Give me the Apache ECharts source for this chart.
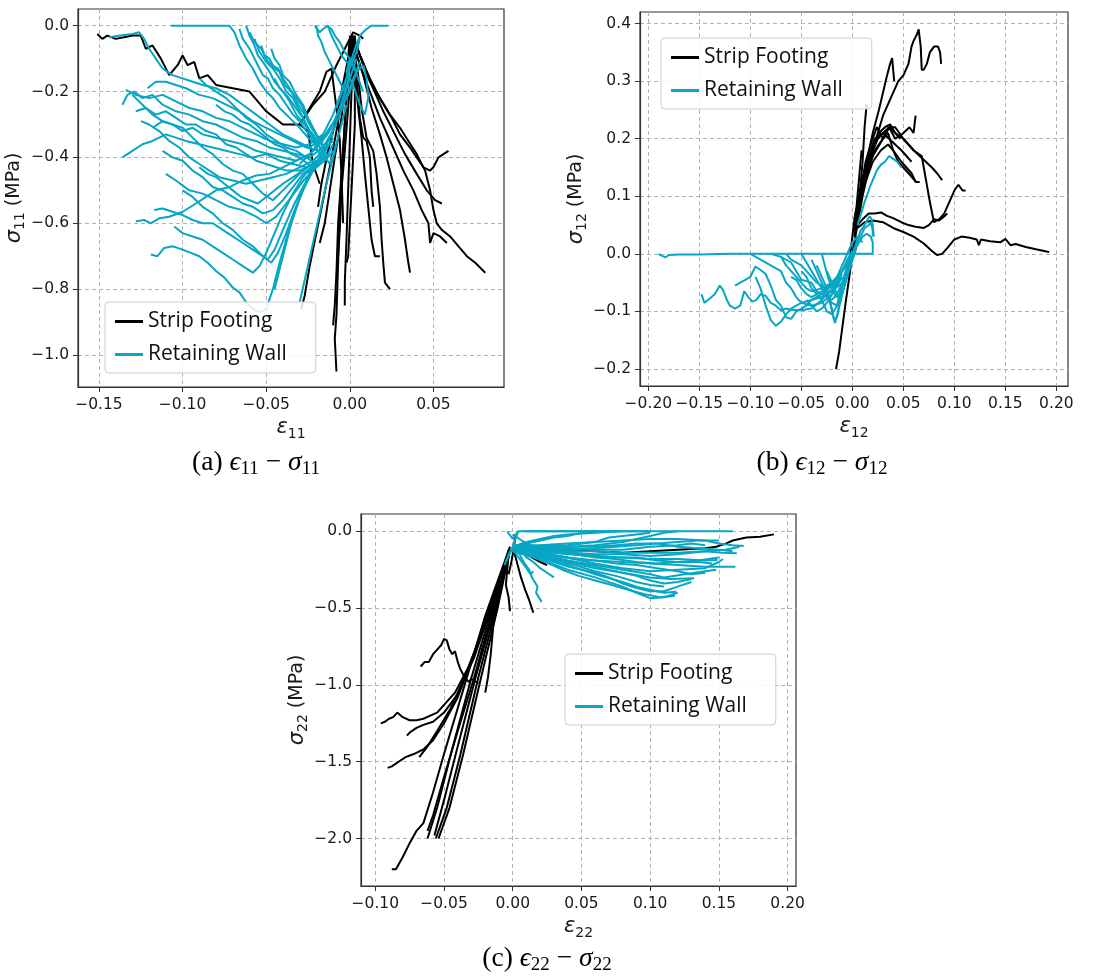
<!DOCTYPE html>
<html><head><meta charset="utf-8">
<script src="https://cdn.jsdelivr.net/npm/echarts@6/dist/echarts.min.js"></script>
<style>html,body{margin:0;padding:0;background:#fff}#c{width:1112px;height:978px}</style>
</head><body><div id="c"></div>
<script>
// ---------- tick labels ----------
const A_XTICKS = [-0.15, -0.10, -0.05, 0.00, 0.05];
const A_YTICKS = [0.0, -0.2, -0.4, -0.6, -0.8, -1.0];
const B_XTICKS = [-0.20, -0.15, -0.10, -0.05, 0.00, 0.05, 0.10, 0.15, 0.20];
const B_YTICKS = [-0.2, -0.1, 0.0, 0.1, 0.2, 0.3, 0.4];
const C_XTICKS = [-0.10, -0.05, 0.00, 0.05, 0.10, 0.15, 0.20];
const C_YTICKS = [0.0, -0.5, -1.0, -1.5, -2.0];
const SERIES_NAMES = ['Strip Footing', 'Retaining Wall'];
const CAPTIONS = ['(a)', '(b)', '(c)'];
const SUBS = ['11', '12', '22'];

// ---------- (a) eps11 - sigma11 ----------
const A_STRIP = [
 [[-0.151,-0.025],[-0.148,-0.04],[-0.145,-0.03],[-0.14,-0.04],[-0.135,-0.035],[-0.13,-0.03],[-0.125,-0.03],[-0.122,-0.07],[-0.118,-0.06],[-0.113,-0.1],[-0.108,-0.15],[-0.103,-0.12],[-0.1,-0.09],[-0.097,-0.12],[-0.093,-0.11],[-0.09,-0.16],[-0.085,-0.15],[-0.08,-0.18],[-0.07,-0.19],[-0.06,-0.2],[-0.05,-0.26],[-0.045,-0.28],[-0.04,-0.3],[-0.03,-0.3],[-0.025,-0.32],[-0.022,-0.42],[-0.018,-0.48]],
 [[0.001,-0.03],[0.004,-0.06],[0.008,-0.12],[0.012,-0.17],[0.018,-0.22],[0.024,-0.27],[0.03,-0.31],[0.035,-0.35],[0.04,-0.39],[0.045,-0.44],[0.048,-0.5],[0.05,-0.56],[0.052,-0.6],[0.055,-0.62],[0.06,-0.64],[0.065,-0.67],[0.07,-0.7],[0.075,-0.72],[0.081,-0.75]],
 [[0.002,-0.03],[0.006,-0.09],[0.012,-0.16],[0.018,-0.22],[0.025,-0.28],[0.03,-0.33],[0.036,-0.37],[0.04,-0.4],[0.044,-0.43],[0.048,-0.44],[0.05,-0.43],[0.053,-0.4],[0.056,-0.39],[0.059,-0.38]],
 [[0.002,-0.04],[0.007,-0.1],[0.013,-0.18],[0.02,-0.26],[0.027,-0.33],[0.033,-0.39],[0.04,-0.45],[0.046,-0.5],[0.051,-0.53],[0.055,-0.54]],
 [[0.002,-0.05],[0.006,-0.12],[0.012,-0.2],[0.018,-0.28],[0.025,-0.36],[0.032,-0.44],[0.038,-0.5],[0.043,-0.56],[0.047,-0.6],[0.048,-0.66],[0.05,-0.63],[0.054,-0.64],[0.058,-0.66]],
 [[0.003,-0.07],[0.008,-0.15],[0.013,-0.25],[0.018,-0.33],[0.022,-0.4],[0.026,-0.48],[0.03,-0.56],[0.033,-0.65],[0.035,-0.72],[0.036,-0.75]],
 [[0.002,-0.06],[0.005,-0.15],[0.007,-0.25],[0.01,-0.34],[0.014,-0.38],[0.016,-0.45],[0.018,-0.55],[0.019,-0.65],[0.02,-0.72],[0.021,-0.78],[0.024,-0.8]],
 [[0.001,-0.06],[0.003,-0.15],[0.005,-0.25],[0.007,-0.34],[0.009,-0.45],[0.011,-0.55],[0.013,-0.65],[0.015,-0.7],[0.018,-0.7]],
 [[0.001,-0.03],[-0.001,-0.1],[-0.004,-0.2],[-0.008,-0.32],[-0.012,-0.43],[-0.016,-0.53],[-0.02,-0.63],[-0.024,-0.73],[-0.027,-0.82],[-0.029,-0.86]],
 [[0.001,-0.04],[-0.001,-0.15],[-0.003,-0.3],[-0.005,-0.45],[-0.007,-0.6],[-0.008,-0.75],[-0.009,-0.85],[-0.01,-0.91]],
 [[0.0,-0.05],[-0.002,-0.2],[-0.004,-0.38],[-0.006,-0.55],[-0.007,-0.72],[-0.008,-0.88],[-0.009,-0.95],[-0.008,-1.05]],
 [[0.002,-0.04],[0.001,-0.2],[0.0,-0.35],[-0.001,-0.5],[-0.002,-0.65],[-0.003,-0.78],[-0.003,-0.85]],
 [[0.001,-0.05],[-0.003,-0.15],[-0.008,-0.28],[-0.013,-0.38],[-0.017,-0.48],[-0.019,-0.55]],
 [[-0.03,-0.3],[-0.024,-0.25],[-0.018,-0.2],[-0.014,-0.14],[-0.011,-0.13],[-0.01,-0.17],[-0.008,-0.25],[-0.006,-0.35],[-0.005,-0.45],[-0.004,-0.6]],
 [[0.0,-0.03],[0.002,-0.1],[0.003,-0.2],[0.003,-0.3],[0.002,-0.4],[0.001,-0.5],[0.0,-0.6],[-0.001,-0.7],[-0.002,-0.72]],
 [[0.003,-0.03],[0.004,-0.15],[0.006,-0.28],[0.008,-0.34],[0.01,-0.35],[0.012,-0.4],[0.013,-0.5],[0.014,-0.55]],
 [[-0.03,-0.3],[-0.022,-0.24],[-0.015,-0.2],[-0.008,-0.12],[-0.003,-0.07],[0.002,-0.02],[0.006,-0.03],[0.008,-0.04]],
 [[0.0,-0.04],[-0.002,-0.15],[-0.005,-0.28],[-0.009,-0.4],[-0.012,-0.5],[-0.015,-0.6],[-0.018,-0.66]],
 [[0.002,-0.03],[0.001,-0.12],[-0.001,-0.25],[-0.003,-0.38],[-0.005,-0.5],[-0.006,-0.62],[-0.007,-0.7]]
];
const A_WALL = [
 [[-0.107,0],[-0.09,0],[-0.072,0],[-0.069,-0.02],[-0.066,-0.06],[-0.062,-0.1],[-0.058,-0.13],[-0.054,-0.17],[-0.05,-0.2],[-0.046,-0.22],[-0.042,-0.25],[-0.036,-0.28],[-0.03,-0.31],[-0.025,-0.34],[-0.02,-0.36],[-0.015,-0.34],[-0.01,-0.3],[-0.005,-0.24],[0.0,-0.16],[0.004,-0.1]],
 [[-0.062,0],[-0.06,-0.03],[-0.057,-0.06],[-0.055,-0.09],[-0.052,-0.11],[-0.048,-0.14],[-0.045,-0.17],[-0.04,-0.2],[-0.036,-0.23],[-0.032,-0.27],[-0.027,-0.3],[-0.022,-0.33],[-0.018,-0.36],[-0.012,-0.32],[-0.006,-0.25],[0.0,-0.15]],
 [[-0.06,-0.02],[-0.057,-0.05],[-0.053,-0.07],[-0.05,-0.1],[-0.047,-0.12],[-0.043,-0.13],[-0.04,-0.16],[-0.036,-0.19],[-0.032,-0.22],[-0.028,-0.25],[-0.025,-0.29],[-0.02,-0.33],[-0.015,-0.37],[-0.01,-0.35]],
 [[-0.057,-0.04],[-0.054,-0.08],[-0.05,-0.11],[-0.046,-0.13],[-0.042,-0.16],[-0.038,-0.2],[-0.034,-0.22],[-0.03,-0.26],[-0.026,-0.3],[-0.022,-0.35],[-0.018,-0.39],[-0.013,-0.36]],
 [[-0.047,-0.07],[-0.045,-0.1],[-0.042,-0.12],[-0.04,-0.15],[-0.036,-0.17],[-0.032,-0.21],[-0.028,-0.24],[-0.025,-0.28],[-0.021,-0.32],[-0.017,-0.36],[-0.013,-0.4],[-0.01,-0.38]],
 [[-0.021,0],[-0.018,-0.02],[-0.016,-0.01],[-0.013,0],[-0.011,-0.03],[-0.008,-0.06],[-0.005,-0.09],[-0.002,-0.11],[0.002,-0.12],[0.005,-0.16],[0.008,-0.2]],
 [[-0.014,0],[-0.011,-0.01],[-0.009,-0.03],[-0.006,-0.05],[-0.003,-0.08],[0.0,-0.1],[0.003,-0.13]],
 [[-0.008,-0.25],[-0.003,-0.18],[0.0,-0.12],[0.003,-0.07],[0.006,-0.03],[0.01,-0.01],[0.013,0],[0.023,0]],
 [[-0.005,-0.25],[0.0,-0.2],[0.004,-0.14],[0.008,-0.12],[0.01,-0.16],[0.011,-0.22],[0.009,-0.27],[0.006,-0.24],[0.002,-0.18],[-0.002,-0.14],[0.0,-0.1]],
 [[-0.144,-0.035],[-0.137,-0.03],[-0.13,-0.025],[-0.126,-0.02],[-0.123,-0.04],[-0.12,-0.07],[-0.116,-0.1],[-0.112,-0.13],[-0.106,-0.15],[-0.1,-0.16],[-0.094,-0.17],[-0.088,-0.18],[-0.08,-0.19],[-0.072,-0.21],[-0.064,-0.24],[-0.056,-0.27],[-0.048,-0.3],[-0.04,-0.33],[-0.032,-0.35],[-0.024,-0.37],[-0.016,-0.34],[-0.008,-0.28]],
 [[-0.136,-0.24],[-0.133,-0.21],[-0.129,-0.2],[-0.124,-0.22],[-0.118,-0.21],[-0.112,-0.24],[-0.104,-0.26],[-0.096,-0.27],[-0.088,-0.29],[-0.08,-0.3],[-0.072,-0.32],[-0.064,-0.34],[-0.056,-0.35],[-0.048,-0.37],[-0.04,-0.38],[-0.032,-0.39],[-0.024,-0.4],[-0.016,-0.37],[-0.008,-0.3]],
 [[-0.134,-0.195],[-0.128,-0.21],[-0.12,-0.22],[-0.112,-0.21],[-0.104,-0.23],[-0.096,-0.25],[-0.088,-0.26],[-0.08,-0.28],[-0.072,-0.29],[-0.064,-0.31],[-0.056,-0.33],[-0.048,-0.35],[-0.04,-0.36],[-0.032,-0.37],[-0.024,-0.36],[-0.016,-0.33]],
 [[-0.13,-0.21],[-0.124,-0.24],[-0.118,-0.27],[-0.112,-0.29],[-0.106,-0.3],[-0.1,-0.32],[-0.094,-0.31],[-0.088,-0.33],[-0.08,-0.34],[-0.072,-0.35],[-0.064,-0.36],[-0.056,-0.38],[-0.048,-0.39],[-0.04,-0.4],[-0.032,-0.41],[-0.024,-0.39],[-0.016,-0.35]],
 [[-0.121,-0.19],[-0.116,-0.17],[-0.11,-0.17],[-0.104,-0.18],[-0.098,-0.19],[-0.09,-0.21],[-0.082,-0.22],[-0.074,-0.24],[-0.066,-0.26],[-0.058,-0.29],[-0.05,-0.31],[-0.042,-0.33],[-0.034,-0.35],[-0.026,-0.37],[-0.018,-0.38],[-0.01,-0.33]],
 [[-0.136,-0.4],[-0.13,-0.38],[-0.124,-0.36],[-0.118,-0.35],[-0.11,-0.33],[-0.104,-0.34],[-0.098,-0.35],[-0.09,-0.36],[-0.082,-0.37],[-0.074,-0.38],[-0.066,-0.39],[-0.058,-0.4],[-0.05,-0.39],[-0.042,-0.41],[-0.034,-0.42],[-0.026,-0.43],[-0.018,-0.41],[-0.01,-0.34]],
 [[-0.125,-0.29],[-0.12,-0.3],[-0.114,-0.32],[-0.108,-0.35],[-0.102,-0.37],[-0.096,-0.4],[-0.09,-0.42],[-0.084,-0.44],[-0.078,-0.46],[-0.07,-0.47],[-0.062,-0.48],[-0.054,-0.47],[-0.046,-0.46],[-0.038,-0.45],[-0.03,-0.43],[-0.022,-0.41],[-0.014,-0.37]],
 [[-0.118,-0.31],[-0.112,-0.29],[-0.106,-0.3],[-0.1,-0.31],[-0.094,-0.34],[-0.088,-0.37],[-0.082,-0.39],[-0.076,-0.42],[-0.07,-0.44],[-0.064,-0.45],[-0.058,-0.48],[-0.052,-0.51],[-0.046,-0.53],[-0.04,-0.5],[-0.034,-0.47],[-0.028,-0.44],[-0.02,-0.41]],
 [[-0.128,-0.594],[-0.123,-0.59],[-0.119,-0.6],[-0.114,-0.585],[-0.108,-0.58],[-0.1,-0.565],[-0.092,-0.54],[-0.086,-0.52],[-0.08,-0.5],[-0.072,-0.49],[-0.064,-0.47],[-0.056,-0.455],[-0.048,-0.45],[-0.04,-0.43],[-0.032,-0.41],[-0.024,-0.39]],
 [[-0.117,-0.56],[-0.112,-0.555],[-0.106,-0.565],[-0.1,-0.575],[-0.094,-0.59],[-0.088,-0.6],[-0.082,-0.6],[-0.076,-0.62],[-0.07,-0.64],[-0.064,-0.66],[-0.058,-0.68],[-0.052,-0.7],[-0.047,-0.72],[-0.043,-0.69],[-0.038,-0.63],[-0.033,-0.56],[-0.028,-0.5],[-0.022,-0.44],[-0.016,-0.38]],
 [[-0.119,-0.695],[-0.115,-0.7],[-0.111,-0.675],[-0.106,-0.67],[-0.1,-0.68],[-0.095,-0.69],[-0.09,-0.7],[-0.085,-0.72],[-0.08,-0.745],[-0.075,-0.765],[-0.07,-0.795],[-0.066,-0.81],[-0.062,-0.84],[-0.058,-0.86],[-0.054,-0.87],[-0.05,-0.86],[-0.046,-0.8],[-0.042,-0.72],[-0.037,-0.63],[-0.031,-0.54],[-0.025,-0.46],[-0.018,-0.4]],
 [[-0.105,-0.61],[-0.1,-0.63],[-0.094,-0.64],[-0.088,-0.65],[-0.082,-0.67],[-0.076,-0.69],[-0.07,-0.71],[-0.064,-0.73],[-0.058,-0.75],[-0.054,-0.73],[-0.05,-0.69],[-0.045,-0.63],[-0.04,-0.57],[-0.034,-0.51],[-0.028,-0.46],[-0.02,-0.41]],
 [[-0.1,-0.5],[-0.094,-0.52],[-0.088,-0.55],[-0.082,-0.57],[-0.076,-0.6],[-0.07,-0.62],[-0.064,-0.65],[-0.058,-0.67],[-0.052,-0.7],[-0.049,-0.71],[-0.045,-0.68],[-0.04,-0.62],[-0.034,-0.55],[-0.028,-0.49],[-0.022,-0.44],[-0.014,-0.39]],
 [[-0.11,-0.45],[-0.104,-0.47],[-0.096,-0.5],[-0.088,-0.51],[-0.08,-0.53],[-0.072,-0.55],[-0.064,-0.56],[-0.056,-0.58],[-0.05,-0.6],[-0.044,-0.58],[-0.038,-0.54],[-0.032,-0.5],[-0.026,-0.46],[-0.018,-0.42]],
 [[-0.09,-0.16],[-0.086,-0.18],[-0.08,-0.2],[-0.074,-0.22],[-0.068,-0.25],[-0.062,-0.28],[-0.056,-0.3],[-0.05,-0.33],[-0.044,-0.35],[-0.038,-0.37],[-0.032,-0.38],[-0.026,-0.4],[-0.02,-0.42],[-0.014,-0.4]],
 [[-0.03,-0.84],[-0.026,-0.75],[-0.022,-0.66],[-0.018,-0.57],[-0.014,-0.48],[-0.01,-0.4],[-0.006,-0.32],[-0.002,-0.24]],
 [[-0.045,-0.8],[-0.04,-0.7],[-0.035,-0.6],[-0.03,-0.52],[-0.025,-0.46],[-0.02,-0.42],[-0.012,-0.34]],
 [[-0.03,-0.42],[-0.022,-0.38],[-0.016,-0.33],[-0.01,-0.27],[-0.005,-0.2],[0.0,-0.13],[0.004,-0.08],[0.006,-0.04]],
 [[-0.025,-0.45],[-0.018,-0.4],[-0.012,-0.34],[-0.006,-0.27],[-0.001,-0.2],[0.003,-0.15],[0.006,-0.11]],
 [[-0.066,-0.01],[-0.064,-0.04],[-0.06,-0.07],[-0.058,-0.09],[-0.055,-0.12],[-0.052,-0.15],[-0.049,-0.16],[-0.046,-0.19],[-0.042,-0.21],[-0.038,-0.24],[-0.034,-0.27],[-0.03,-0.29],[-0.026,-0.32],[-0.021,-0.35],[-0.016,-0.38]],
 [[-0.053,-0.06],[-0.051,-0.09],[-0.048,-0.1],[-0.045,-0.13],[-0.042,-0.14],[-0.039,-0.18],[-0.035,-0.2],[-0.031,-0.24],[-0.027,-0.27],[-0.023,-0.31],[-0.019,-0.34],[-0.014,-0.38]],
 [[-0.045,-0.16],[-0.042,-0.19],[-0.038,-0.21],[-0.035,-0.23],[-0.031,-0.26],[-0.028,-0.28],[-0.024,-0.32],[-0.02,-0.35],[-0.016,-0.39],[-0.012,-0.42],[-0.008,-0.36]],
 [[-0.02,0],[-0.019,-0.03],[-0.017,-0.05],[-0.015,-0.08],[-0.013,-0.1],[-0.011,-0.12],[-0.009,-0.14],[-0.006,-0.17],[-0.003,-0.2]],
 [[-0.128,-0.26],[-0.122,-0.25],[-0.116,-0.27],[-0.11,-0.26],[-0.104,-0.28],[-0.098,-0.3],[-0.092,-0.3],[-0.086,-0.32],[-0.08,-0.33],[-0.074,-0.36],[-0.068,-0.37],[-0.062,-0.39],[-0.056,-0.41],[-0.05,-0.42],[-0.044,-0.43],[-0.038,-0.44],[-0.03,-0.44],[-0.022,-0.42]],
 [[-0.112,-0.38],[-0.106,-0.4],[-0.1,-0.41],[-0.094,-0.44],[-0.088,-0.46],[-0.082,-0.49],[-0.076,-0.5],[-0.07,-0.52],[-0.064,-0.54],[-0.058,-0.55],[-0.052,-0.57],[-0.046,-0.56],[-0.04,-0.53],[-0.034,-0.49],[-0.028,-0.45],[-0.02,-0.42]],
 [[-0.09,-0.43],[-0.085,-0.45],[-0.08,-0.46],[-0.075,-0.48],[-0.07,-0.5],[-0.065,-0.52],[-0.06,-0.53],[-0.055,-0.54],[-0.05,-0.52],[-0.045,-0.5],[-0.04,-0.48],[-0.034,-0.46],[-0.028,-0.44],[-0.02,-0.41]],
 [[-0.08,-0.24],[-0.075,-0.26],[-0.07,-0.27],[-0.065,-0.29],[-0.06,-0.3],[-0.055,-0.32],[-0.05,-0.34],[-0.045,-0.36],[-0.04,-0.37],[-0.035,-0.39],[-0.03,-0.4],[-0.025,-0.42],[-0.02,-0.43],[-0.015,-0.41],[-0.01,-0.36]]
];

// ---------- (b) eps12 - sigma12 ----------
const B_STRIP = [
 [[0.0,0.0],[0.005,0.05],[0.01,0.1],[0.015,0.14],[0.02,0.18],[0.025,0.21],[0.03,0.24],[0.035,0.26],[0.04,0.28],[0.045,0.3],[0.05,0.31],[0.055,0.33],[0.058,0.36],[0.06,0.37],[0.063,0.38],[0.065,0.39],[0.067,0.36],[0.068,0.32],[0.07,0.32],[0.073,0.33],[0.076,0.35],[0.08,0.36],[0.084,0.36],[0.086,0.35],[0.087,0.33]],
 [[0.002,0.03],[0.008,0.1],[0.014,0.16],[0.02,0.21],[0.026,0.25],[0.03,0.28],[0.034,0.31],[0.037,0.33],[0.039,0.34],[0.04,0.32],[0.041,0.3]],
 [[0.003,0.04],[0.007,0.1],[0.01,0.16],[0.012,0.22],[0.014,0.26]],
 [[0.002,0.05],[0.01,0.12],[0.02,0.17],[0.03,0.2],[0.036,0.22],[0.042,0.2],[0.05,0.21],[0.056,0.22],[0.06,0.21],[0.062,0.24]],
 [[0.002,0.05],[0.012,0.14],[0.022,0.2],[0.03,0.21],[0.036,0.22],[0.042,0.21],[0.05,0.2],[0.06,0.18],[0.066,0.17],[0.072,0.16],[0.078,0.15],[0.083,0.14],[0.088,0.128]],
 [[0.002,0.05],[0.012,0.13],[0.022,0.18],[0.03,0.2],[0.036,0.22],[0.042,0.22],[0.05,0.2],[0.06,0.18],[0.068,0.17],[0.072,0.13],[0.076,0.09],[0.08,0.055],[0.085,0.06],[0.09,0.07],[0.095,0.09],[0.1,0.11],[0.104,0.12],[0.108,0.11],[0.111,0.11]],
 [[0.002,0.05],[0.012,0.12],[0.02,0.16],[0.028,0.18],[0.035,0.19],[0.04,0.18],[0.048,0.16],[0.053,0.15],[0.058,0.14],[0.062,0.125],[0.066,0.125]],
 [[0.002,0.06],[0.01,0.13],[0.018,0.17],[0.025,0.2],[0.03,0.21],[0.036,0.2],[0.042,0.19],[0.048,0.18],[0.053,0.17],[0.058,0.16]],
 [[0.005,0.05],[0.01,0.06],[0.016,0.07],[0.022,0.07],[0.028,0.072],[0.034,0.066],[0.04,0.062],[0.048,0.055],[0.055,0.05],[0.062,0.047],[0.07,0.045],[0.075,0.05],[0.08,0.06],[0.085,0.058],[0.09,0.065],[0.093,0.07]],
 [[0.005,0.045],[0.012,0.055],[0.02,0.058],[0.03,0.055],[0.04,0.045],[0.05,0.038],[0.06,0.03],[0.07,0.018],[0.078,0.005],[0.083,-0.002],[0.088,0.0],[0.093,0.01],[0.1,0.025],[0.107,0.03],[0.115,0.028],[0.122,0.025],[0.124,0.015],[0.126,0.025],[0.135,0.022],[0.145,0.02],[0.15,0.026],[0.155,0.015],[0.16,0.017],[0.17,0.012],[0.18,0.008],[0.188,0.005],[0.193,0.003]],
 [[0.004,0.03],[0.0,0.0],[-0.003,-0.04],[-0.007,-0.09],[-0.01,-0.13],[-0.013,-0.17],[-0.016,-0.2]],
 [[0.003,0.05],[0.008,0.11],[0.013,0.16],[0.018,0.19],[0.024,0.22],[0.03,0.2],[0.035,0.21],[0.04,0.18],[0.045,0.16],[0.05,0.15],[0.055,0.14],[0.06,0.13],[0.063,0.124]],
 [[-0.005,-0.04],[-0.002,0.0],[0.0,0.03],[0.002,0.06],[0.004,0.08],[0.006,0.12],[0.009,0.18]],
 [[0.002,0.04],[0.008,0.1],[0.014,0.15],[0.02,0.19],[0.026,0.21],[0.032,0.22],[0.037,0.225],[0.042,0.21],[0.047,0.2]]
];
const B_WALL = [
 [[-0.19,0.0],[-0.186,-0.004],[-0.183,-0.006],[-0.18,-0.002],[-0.17,-0.001],[-0.15,-0.001],[-0.12,0],[-0.1,0],[-0.07,0],[-0.04,0],[-0.02,0],[0.0,0],[0.02,0]],
 [[-0.148,-0.07],[-0.145,-0.085],[-0.14,-0.078],[-0.135,-0.07],[-0.13,-0.055],[-0.127,-0.062],[-0.123,-0.08],[-0.12,-0.09],[-0.115,-0.095],[-0.11,-0.09],[-0.106,-0.065],[-0.102,-0.075],[-0.098,-0.083],[-0.094,-0.08],[-0.09,-0.07],[-0.085,-0.073],[-0.08,-0.085],[-0.075,-0.09],[-0.07,-0.098],[-0.065,-0.095],[-0.06,-0.097],[-0.05,-0.098],[-0.04,-0.095],[-0.03,-0.08],[-0.02,-0.06],[-0.01,-0.04]],
 [[-0.115,-0.055],[-0.11,-0.05],[-0.105,-0.045],[-0.1,-0.04],[-0.095,-0.022],[-0.09,-0.028],[-0.085,-0.035],[-0.08,-0.055],[-0.075,-0.08],[-0.07,-0.09],[-0.065,-0.11],[-0.06,-0.113],[-0.055,-0.1],[-0.05,-0.095],[-0.045,-0.09],[-0.04,-0.08],[-0.03,-0.075],[-0.02,-0.065],[-0.01,-0.05]],
 [[-0.095,-0.04],[-0.09,-0.06],[-0.085,-0.09],[-0.08,-0.115],[-0.075,-0.125],[-0.07,-0.118],[-0.065,-0.105],[-0.06,-0.095],[-0.055,-0.09],[-0.05,-0.085],[-0.04,-0.08],[-0.03,-0.07],[-0.02,-0.055],[-0.01,-0.035]],
 [[-0.1,0.0],[-0.09,-0.01],[-0.08,-0.02],[-0.07,-0.03],[-0.065,-0.05],[-0.06,-0.06],[-0.055,-0.075],[-0.05,-0.085],[-0.04,-0.09],[-0.03,-0.085],[-0.02,-0.07],[-0.01,-0.04]],
 [[-0.08,0.0],[-0.07,-0.005],[-0.065,-0.02],[-0.06,-0.03],[-0.055,-0.04],[-0.05,-0.05],[-0.045,-0.06],[-0.04,-0.065],[-0.03,-0.06],[-0.02,-0.05],[-0.01,-0.03],[0.0,0.0]],
 [[-0.065,0.0],[-0.06,-0.01],[-0.05,-0.02],[-0.045,-0.03],[-0.04,-0.04],[-0.035,-0.05],[-0.03,-0.055],[-0.025,-0.06],[-0.02,-0.05],[-0.01,-0.03],[0.0,-0.005]],
 [[-0.05,0.0],[-0.045,-0.015],[-0.04,-0.03],[-0.035,-0.045],[-0.03,-0.06],[-0.025,-0.075],[-0.02,-0.085],[-0.015,-0.09],[-0.01,-0.06],[-0.005,-0.03],[0.0,0.0]],
 [[-0.04,-0.01],[-0.035,-0.03],[-0.03,-0.05],[-0.025,-0.07],[-0.02,-0.095],[-0.018,-0.115],[-0.015,-0.11],[-0.012,-0.08],[-0.008,-0.05],[-0.004,-0.025],[0.0,0.0]],
 [[-0.035,-0.02],[-0.03,-0.04],[-0.025,-0.06],[-0.022,-0.08],[-0.02,-0.1],[-0.017,-0.12],[-0.014,-0.1],[-0.01,-0.07],[-0.005,-0.04],[0.0,-0.01]],
 [[-0.03,0.0],[-0.027,-0.02],[-0.024,-0.04],[-0.02,-0.06],[-0.016,-0.075],[-0.012,-0.07],[-0.008,-0.05],[-0.004,-0.03],[0.0,-0.01],[0.004,0.01]],
 [[0.0,0.0],[0.004,0.02],[0.008,0.04],[0.012,0.05],[0.015,0.06],[0.017,0.065],[0.019,0.06],[0.02,0.05],[0.021,0.03]],
 [[0.003,0.01],[0.008,0.03],[0.012,0.045],[0.016,0.05],[0.018,0.055],[0.02,0.04],[0.02,0.03]],
 [[0.005,0.05],[0.012,0.09],[0.018,0.12],[0.024,0.145],[0.028,0.155],[0.032,0.16],[0.036,0.17],[0.04,0.165],[0.044,0.16],[0.048,0.15]],
 [[-0.045,-0.08],[-0.04,-0.09],[-0.035,-0.1],[-0.03,-0.095],[-0.025,-0.085],[-0.02,-0.07],[-0.015,-0.05],[-0.01,-0.03],[-0.005,-0.01],[0.0,0.005]],
 [[-0.06,-0.04],[-0.055,-0.045],[-0.05,-0.06],[-0.045,-0.07],[-0.04,-0.075],[-0.035,-0.07],[-0.03,-0.065],[-0.025,-0.06],[-0.02,-0.05],[-0.015,-0.04],[-0.01,-0.02],[-0.005,0.0],[0.0,0.02],[0.005,0.03],[0.01,0.02]],
 [[-0.05,-0.03],[-0.045,-0.04],[-0.04,-0.06],[-0.035,-0.07],[-0.03,-0.08],[-0.025,-0.1],[-0.02,-0.105],[-0.015,-0.09],[-0.01,-0.05],[-0.005,-0.02],[0.0,0.0]],
 [[-0.07,-0.005],[-0.06,-0.015],[-0.055,-0.03],[-0.05,-0.045],[-0.04,-0.05],[-0.035,-0.065],[-0.03,-0.07],[-0.02,-0.08],[-0.015,-0.07],[-0.01,-0.05],[0.0,-0.01]],
 [[-0.025,-0.03],[-0.02,-0.05],[-0.015,-0.07],[-0.012,-0.085],[-0.01,-0.07],[-0.006,-0.04],[-0.002,-0.02],[0.002,0.0]],
 [[0.0,0.0],[0.005,0.015],[0.01,0.03],[0.014,0.035],[0.018,0.03],[0.02,0.02],[0.02,0.0]]
];

// ---------- (c) eps22 - sigma22 ----------
const C_STRIP = [
 [[-0.002,-0.1],[-0.01,-0.3],[-0.02,-0.55],[-0.03,-0.85],[-0.04,-1.15],[-0.05,-1.45],[-0.058,-1.7],[-0.065,-1.9],[-0.07,-1.95],[-0.075,-2.03],[-0.08,-2.12],[-0.085,-2.2],[-0.088,-2.2]],
 [[-0.002,-0.12],[-0.015,-0.5],[-0.03,-0.95],[-0.045,-1.45],[-0.055,-1.8],[-0.062,-2.0]],
 [[-0.002,-0.12],[-0.012,-0.5],[-0.025,-0.95],[-0.038,-1.45],[-0.048,-1.8],[-0.056,-2.0]],
 [[-0.002,-0.12],[-0.011,-0.5],[-0.023,-0.95],[-0.036,-1.45],[-0.046,-1.8],[-0.054,-2.0]],
 [[-0.003,-0.15],[-0.014,-0.5],[-0.028,-0.95],[-0.04,-1.3],[-0.05,-1.6],[-0.058,-1.85],[-0.062,-1.95]],
 [[-0.003,-0.15],[-0.012,-0.4],[-0.022,-0.65],[-0.032,-0.88],[-0.042,-1.05],[-0.05,-1.13],[-0.055,-1.18],[-0.06,-1.2],[-0.065,-1.22],[-0.07,-1.23],[-0.075,-1.23],[-0.08,-1.21],[-0.084,-1.18],[-0.087,-1.21],[-0.09,-1.22],[-0.093,-1.24],[-0.096,-1.25]],
 [[-0.003,-0.15],[-0.015,-0.45],[-0.028,-0.8],[-0.04,-1.08],[-0.05,-1.25],[-0.058,-1.36],[-0.065,-1.42],[-0.072,-1.45],[-0.078,-1.47],[-0.083,-1.5],[-0.088,-1.53],[-0.091,-1.54]],
 [[-0.003,-0.15],[-0.015,-0.48],[-0.028,-0.82],[-0.04,-1.06],[-0.05,-1.18],[-0.058,-1.24],[-0.065,-1.26],[-0.07,-1.28],[-0.075,-1.31],[-0.077,-1.33]],
 [[-0.004,-0.2],[-0.02,-0.6],[-0.035,-0.95],[-0.045,-1.15],[-0.055,-1.3],[-0.062,-1.4],[-0.068,-1.47]],
 [[-0.067,-0.88],[-0.064,-0.85],[-0.061,-0.85],[-0.058,-0.8],[-0.055,-0.77],[-0.052,-0.74],[-0.05,-0.7],[-0.048,-0.71],[-0.046,-0.77],[-0.044,-0.8],[-0.042,-0.78],[-0.04,-0.85],[-0.038,-0.9],[-0.035,-0.95],[-0.032,-0.98],[-0.03,-0.96],[-0.025,-0.99]],
 [[-0.003,-0.12],[-0.008,-0.3],[-0.011,-0.45],[-0.014,-0.6],[-0.016,-0.8],[-0.018,-0.95],[-0.019,-1.0],[-0.02,-1.05]],
 [[0.0,-0.1],[0.003,-0.2],[0.006,-0.3],[0.009,-0.38],[0.012,-0.45],[0.015,-0.53]],
 [[-0.003,-0.15],[-0.004,-0.25],[-0.005,-0.35],[-0.003,-0.43],[-0.002,-0.52]],
 [[0.0,-0.1],[0.02,-0.11],[0.04,-0.12],[0.06,-0.13],[0.08,-0.14],[0.1,-0.13],[0.12,-0.12],[0.14,-0.11],[0.148,-0.1],[0.155,-0.08],[0.16,-0.06],[0.17,-0.04],[0.18,-0.035],[0.19,-0.02]],
 [[0.0,-0.1],[0.01,-0.15],[0.02,-0.2],[0.025,-0.22]],
 [[0.002,-0.02],[0.001,-0.1],[-0.001,-0.2],[-0.003,-0.28]],
 [[-0.002,-0.12],[-0.013,-0.5],[-0.027,-0.95],[-0.04,-1.4],[-0.05,-1.75],[-0.057,-1.98]]
];
const C_WALL = [
 [[-0.004,0.0],[0.0,-0.05],[0.004,0.0],[0.02,0.0],[0.05,0.0],[0.08,0.0],[0.1,0.0],[0.13,0.0],[0.16,0.0]],
 [[0.008,0.0],[0.03,0.0],[0.06,0.0],[0.077,0.0]],
 [[0.0,-0.1],[0.02,-0.09],[0.04,-0.08],[0.06,-0.07],[0.08,-0.06],[0.1,-0.05],[0.12,-0.05],[0.14,-0.06],[0.15,-0.08],[0.16,-0.09],[0.168,-0.095]],
 [[0.0,-0.1],[0.02,-0.11],[0.04,-0.1],[0.06,-0.09],[0.08,-0.07],[0.09,-0.05],[0.1,-0.03],[0.11,-0.01],[0.12,0.0]],
 [[0.0,-0.1],[0.02,-0.1],[0.04,-0.09],[0.06,-0.07],[0.07,-0.04],[0.08,-0.03],[0.09,-0.02],[0.1,-0.01]],
 [[0.0,-0.1],[0.02,-0.12],[0.04,-0.13],[0.06,-0.13],[0.08,-0.14],[0.1,-0.14],[0.12,-0.14],[0.14,-0.13],[0.152,-0.14],[0.163,-0.143]],
 [[0.0,-0.12],[0.02,-0.13],[0.04,-0.15],[0.06,-0.16],[0.08,-0.17],[0.1,-0.18],[0.12,-0.18],[0.14,-0.19],[0.149,-0.187]],
 [[0.0,-0.12],[0.02,-0.14],[0.04,-0.17],[0.06,-0.19],[0.08,-0.2],[0.1,-0.21],[0.12,-0.22],[0.14,-0.23],[0.162,-0.23]],
 [[0.0,-0.12],[0.02,-0.15],[0.04,-0.2],[0.06,-0.24],[0.08,-0.27],[0.1,-0.3],[0.115,-0.31],[0.132,-0.306]],
 [[0.0,-0.12],[0.02,-0.16],[0.04,-0.22],[0.06,-0.28],[0.08,-0.33],[0.09,-0.36],[0.1,-0.38],[0.11,-0.4],[0.119,-0.393]],
 [[0.0,-0.13],[0.02,-0.18],[0.04,-0.25],[0.06,-0.3],[0.08,-0.36],[0.09,-0.4],[0.1,-0.435],[0.11,-0.43],[0.12,-0.4]],
 [[0.0,-0.11],[0.02,-0.14],[0.04,-0.17],[0.06,-0.21],[0.08,-0.24],[0.1,-0.26],[0.12,-0.25],[0.14,-0.24],[0.15,-0.2],[0.153,-0.18]],
 [[0.0,-0.1],[0.02,-0.12],[0.04,-0.14],[0.06,-0.15],[0.08,-0.15],[0.1,-0.16],[0.12,-0.15],[0.14,-0.13],[0.155,-0.12],[0.165,-0.1]],
 [[0.0,-0.11],[0.02,-0.15],[0.04,-0.19],[0.06,-0.22],[0.08,-0.25],[0.1,-0.28],[0.11,-0.3],[0.125,-0.28],[0.14,-0.26],[0.148,-0.25]],
 [[0.0,-0.12],[0.02,-0.17],[0.04,-0.23],[0.06,-0.27],[0.07,-0.3],[0.08,-0.34],[0.09,-0.37],[0.1,-0.39],[0.11,-0.39],[0.12,-0.36],[0.13,-0.33]],
 [[0.0,-0.1],[0.02,-0.11],[0.04,-0.11],[0.06,-0.12],[0.08,-0.12],[0.1,-0.1],[0.12,-0.09],[0.13,-0.08],[0.14,-0.09]],
 [[0.0,-0.1],[0.01,-0.08],[0.02,-0.06],[0.03,-0.04],[0.04,-0.03],[0.05,-0.01],[0.06,0.0]],
 [[0.0,-0.1],[0.005,-0.15],[0.008,-0.2],[0.012,-0.25],[0.014,-0.3],[0.016,-0.33],[0.018,-0.36],[0.017,-0.4],[0.019,-0.43],[0.021,-0.46]],
 [[0.0,-0.12],[0.005,-0.18],[0.01,-0.24],[0.013,-0.28],[0.015,-0.26]],
 [[-0.005,-0.2],[-0.003,-0.15],[0.0,-0.1],[0.002,-0.05],[0.004,0.0]],
 [[-0.006,-0.22],[-0.004,-0.18],[-0.002,-0.14],[0.0,-0.12]],
 [[0.0,-0.02],[0.005,-0.05],[0.01,-0.08],[0.015,-0.1],[0.02,-0.15],[0.025,-0.2]],
 [[0.0,-0.1],[0.015,-0.12],[0.03,-0.14],[0.045,-0.15],[0.06,-0.17],[0.075,-0.18],[0.09,-0.2],[0.105,-0.21],[0.12,-0.2],[0.135,-0.2],[0.145,-0.21]],
 [[0.0,-0.11],[0.015,-0.14],[0.03,-0.18],[0.045,-0.2],[0.06,-0.23],[0.075,-0.26],[0.09,-0.29],[0.1,-0.32],[0.11,-0.34],[0.12,-0.33],[0.13,-0.31]],
 [[0.0,-0.1],[0.015,-0.11],[0.03,-0.12],[0.045,-0.12],[0.06,-0.11],[0.075,-0.1],[0.09,-0.09],[0.105,-0.08],[0.12,-0.07],[0.135,-0.06],[0.15,-0.06]],
 [[0.0,-0.12],[0.015,-0.15],[0.03,-0.19],[0.045,-0.22],[0.06,-0.26],[0.075,-0.29],[0.09,-0.33],[0.1,-0.35],[0.11,-0.36]],
 [[0.0,-0.1],[0.015,-0.13],[0.03,-0.16],[0.045,-0.18],[0.06,-0.19],[0.075,-0.21],[0.09,-0.22],[0.105,-0.24],[0.12,-0.26],[0.13,-0.28],[0.14,-0.27]],
 [[0.0,-0.1],[0.015,-0.12],[0.03,-0.13],[0.045,-0.14],[0.06,-0.16],[0.075,-0.17],[0.09,-0.17],[0.105,-0.19],[0.12,-0.2],[0.135,-0.19],[0.15,-0.17]],
 [[0.0,-0.09],[0.015,-0.09],[0.03,-0.1],[0.045,-0.1],[0.06,-0.1],[0.075,-0.09],[0.09,-0.08],[0.105,-0.08],[0.12,-0.1],[0.135,-0.11],[0.15,-0.12],[0.16,-0.13]],
 [[0.0,-0.1],[0.01,-0.07],[0.02,-0.05],[0.03,-0.03],[0.04,-0.02],[0.06,-0.01],[0.08,0.0],[0.1,0.0]],
 [[0.005,-0.12],[0.01,-0.17],[0.015,-0.2],[0.02,-0.24],[0.025,-0.27],[0.03,-0.3]],
 [[0.0,-0.12],[0.012,-0.16],[0.024,-0.2],[0.036,-0.25],[0.048,-0.29],[0.06,-0.32],[0.072,-0.35],[0.084,-0.38],[0.096,-0.41],[0.108,-0.43],[0.118,-0.42]]
];

// ---------- build ----------
const BLACK = '#000000', CYAN = '#07a6c4';
const chart = echarts.init(document.getElementById('c'), null, {renderer: 'canvas'});

const panels = [
  {grid: {left: 78, top: 9, width: 426, height: 378}, xr: [-0.16255, 0.0922], yr: [-1.0972, 0.0507], xt: A_XTICKS, yt: A_YTICKS, xd: 2, yd: 1, strip: A_STRIP, wall: A_WALL,
   legend: {left: 105, top: 302}, cap: {x: 256, y: 463}},
  {grid: {left: 640, top: 12, width: 428, height: 374}, xr: [-0.2082, 0.2114], yr: [-0.2295, 0.4201], xt: B_XTICKS, yt: B_YTICKS, xd: 2, yd: 1, strip: B_STRIP, wall: B_WALL,
   legend: {left: 661, top: 38}, cap: {x: 822, y: 463}},
  {grid: {left: 361, top: 514, width: 435, height: 372}, xr: [-0.1104, 0.2061], yr: [-2.309, 0.1127], xt: C_XTICKS, yt: C_YTICKS, xd: 2, yd: 1, strip: C_STRIP, wall: C_WALL,
   legend: {left: 565, top: 654}, cap: {x: 547, y: 959}}
];

function fmt(d) { return v => (v < -1e-9 ? '\u2212' : '') + Math.abs(v).toFixed(d); }
const TICKFONT = {fontFamily: 'DejaVu Sans', fontSize: 15.5, color: '#1a1a1a'};
const nameRich = {
  g: {fontFamily: 'DejaVu Sans', fontStyle: 'italic', fontSize: 21, lineHeight: 26, color: '#1a1a1a'},
  s: {fontFamily: 'DejaVu Sans', fontSize: 14, lineHeight: 13, verticalAlign: 'bottom', color: '#1a1a1a'},
  p: {fontFamily: 'DejaVu Sans', fontSize: 19, lineHeight: 26, color: '#1a1a1a'}
};

const grids = [], xAxes = [], yAxes = [], series = [], legends = [], graphics = [];
panels.forEach((p, i) => {
  grids.push(Object.assign({show: true, borderColor: '#333', borderWidth: 1.2, backgroundColor: 'transparent'}, p.grid));
  const common = {
    gridIndex: i, type: 'value',
    axisLine: {show: true, onZero: false, lineStyle: {color: '#333', width: 1.2}},
    axisTick: {show: true, inside: false, length: 5, lineStyle: {color: '#333'}},
    splitLine: {show: true, lineStyle: {color: '#b3b3b3', type: [4, 3], width: 1}},
    nameLocation: 'middle'
  };
  xAxes.push(Object.assign({}, common, {
    min: p.xr[0], max: p.xr[1],
    axisTick: Object.assign({}, common.axisTick, {customValues: p.xt}),
    axisLabel: Object.assign({customValues: p.xt, formatter: fmt(p.xd), margin: 10}, TICKFONT),
    name: '{g|\u03b5}{s|' + SUBS[i] + '}', nameGap: 28, nameTextStyle: {rich: nameRich}
  }));
  yAxes.push(Object.assign({}, common, {
    min: p.yr[0], max: p.yr[1],
    axisTick: Object.assign({}, common.axisTick, {customValues: p.yt}),
    axisLabel: Object.assign({customValues: p.yt, formatter: fmt(p.yd), margin: 9}, TICKFONT),
    name: '{g|\u03c3}{s|' + SUBS[i] + '}{p| (MPa)}', nameGap: 48, nameRotate: 90, nameTextStyle: {rich: nameRich}
  }));
  p.strip.forEach(pts => series.push({type: 'line', name: SERIES_NAMES[0], xAxisIndex: i, yAxisIndex: i, data: pts,
    showSymbol: false, symbol: 'none', silent: true, color: BLACK, lineStyle: {color: BLACK, width: 2}, z: 2}));
  p.wall.forEach(pts => series.push({type: 'line', name: SERIES_NAMES[1], xAxisIndex: i, yAxisIndex: i, data: pts,
    showSymbol: false, symbol: 'none', silent: true, color: CYAN, lineStyle: {color: CYAN, width: 2}, z: 3}));
  legends.push({
    data: SERIES_NAMES, orient: 'vertical', left: p.legend.left, top: p.legend.top,
    icon: 'rect', itemWidth: 28, itemHeight: 3, itemGap: 12,
    backgroundColor: 'rgba(255,255,255,0.85)', borderColor: '#cccccc', borderWidth: 1, borderRadius: 4,
    padding: [9, 29, 8, 10],
    textStyle: {fontFamily: 'Open Sans', fontSize: 21, color: '#111'},
    selectedMode: false
  });
  graphics.push({
    type: 'text', x: p.cap.x, y: p.cap.y,
    style: {
      text: '{n|' + CAPTIONS[i] + ' }{e|\u03f5}{s|' + SUBS[i] + '}{n| \u2212 }{e|\u03c3}{s|' + SUBS[i] + '}',
      x: 0, y: 0, align: 'center', verticalAlign: 'middle', textAlign: 'center', textVerticalAlign: 'middle',
      rich: {
        n: {fontFamily: 'Liberation Serif', fontSize: 27.5, lineHeight: 32, fill: '#000', color: '#000'},
        e: {fontFamily: 'Liberation Serif', fontStyle: 'italic', fontSize: 27.5, lineHeight: 32, fill: '#000', color: '#000'},
        s: {fontFamily: 'Liberation Serif', fontSize: 19, lineHeight: 16, verticalAlign: 'bottom', fill: '#000', color: '#000'}
      }
    }
  });
});

chart.setOption({
  backgroundColor: '#ffffff',
  animation: false,
  grid: grids, xAxis: xAxes, yAxis: yAxes, legend: legends, series: series, graphic: graphics
});
</script></body></html>
